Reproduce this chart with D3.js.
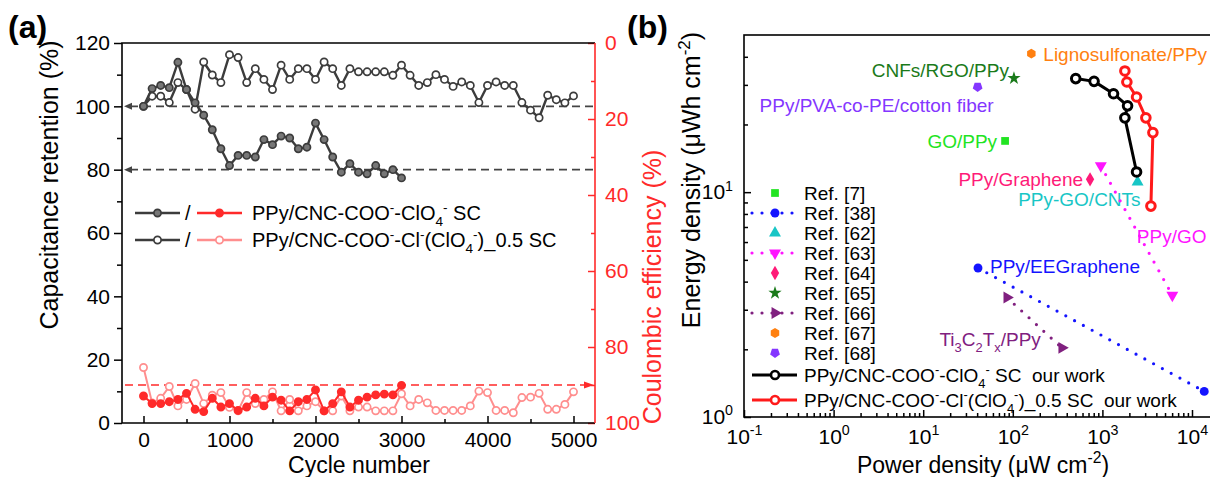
<!DOCTYPE html>
<html>
<head>
<meta charset="utf-8">
<script src="https://cdn.jsdelivr.net/npm/d3@7"></script>
<style>
html, body { margin: 0; padding: 0; background: #fff; overflow: hidden; }
svg { display: block; font-family: "Liberation Sans", Arial, sans-serif; }
</style>
</head>
<body>
<svg id="chart" width="1210" height="477"></svg>
<script>
// ---- panel (a): cycling stability ----
const cycles3000 = [0,100,200,300,400,500,600,700,800,900,1000,1100,1200,1300,1400,1500,1600,1700,1800,1900,2000,
  2100,2200,2300,2400,2500,2600,2700,2800,2900,3000];
const cycles5000 = [0,100,200,300,400,500,600,700,800,900,1000,1100,1200,1300,1400,1500,1600,1700,1800,1900,2000,
  2100,2200,2300,2400,2500,2600,2700,2800,2900,3000,3100,3200,3300,3400,3500,3600,3700,3800,3900,4000,
  4100,4200,4300,4400,4500,4600,4700,4800,4900,5000];
const retentionClO4 = [100,105.6,106.6,105.9,113.9,105.3,101.1,97.2,92.6,86.6,81.3,84.5,84.5,84.0,89.5,87.9,90.6,90.0,
  86.6,87.1,94.7,89.5,84.0,79.2,81.9,79.2,78.7,81.3,78.7,80.0,77.4];
const retentionClClO4 = [100,103.2,103.2,101.2,107.5,105.3,99.1,114.0,109.9,107.5,116.3,115.4,107.5,111.9,108.5,105.3,
  113.0,108.5,111.9,111.9,108.5,114.0,111.9,106.6,111.9,110.9,110.9,110.9,110.9,109.8,113.0,109.8,106.6,107.5,110.0,
  108.5,106.3,107.7,106.6,101.2,106.6,107.7,106.6,106.6,101.2,98.8,96.4,103.5,102.1,101.1,103.3];
const ceClO4 = [92.9,94.9,94.9,94.4,93.8,92.2,96.4,97.0,93.5,95.8,94.9,96.7,95.8,93.5,95.5,93.2,94.0,96.8,94.4,93.8,
  91.3,96.8,94.9,91.8,95.8,94.0,93.2,92.6,92.4,92.6,90.1];
const ceClClO4 = [85.4,94.7,93.5,90.4,95.5,93.8,89.6,94.9,92.7,92.0,95.9,96.8,92.0,94.9,93.8,91.8,96.8,93.8,96.8,95.5,
  94.4,96.8,96.8,92.9,96.8,95.8,95.8,96.8,96.8,96.8,92.3,95.5,93.8,94.7,96.7,96.7,96.7,96.7,95.5,91.6,92.0,96.7,96.7,
  97.3,93.3,93.2,92.2,96.4,96.4,95.1,91.8];
const retentionGuides = [100, 80];
const ceGuide = 90;
const cycleTicks = [0, 1000, 2000, 3000, 4000, 5000];
const retentionTicks = [0, 20, 40, 60, 80, 100, 120];
const ceTicks = [0, 20, 40, 60, 80, 100];

// ---- panel (b): Ragone plot ----
const refNames = ["Ref. [7]","Ref. [38]","Ref. [62]","Ref. [63]","Ref. [64]","Ref. [65]","Ref. [66]","Ref. [67]","Ref. [68]"];
const refPower = [[82],[40.9,13700],[2470],[960,6030],[728],[103],[86,353],[161],[40.5]];
const refEnergy = [[16.9],[4.6,1.30],[11.1],[13.1,3.48],[11.4],[32.1],[3.40,2.03],[41.3],[29.4]];
const refTags = ["GO/PPy","PPy/EEGraphene","PPy-GO/CNTs","PPy/GO","PPy/Graphene","CNFs/RGO/PPy",
  [["Ti",""],["3","sub"],["C",""],["2","sub"],["T",""],["x","sub"],["/PPy",""]],"Lignosulfonate/PPy","PPy/PVA-co-PE/cotton fiber"];
const powerClO4 = [504, 807, 1331, 1909, 1782, 2406];
const energyClO4 = [32.0, 31.1, 27.4, 24.2, 21.4, 12.3];
const powerClClO4 = [1782, 1875, 2406, 3055, 3660, 3478];
const energyClClO4 = [34.6, 30.9, 26.5, 21.4, 18.4, 8.67];
const powerTicks = [0.1, 1, 10, 100, 1000, 10000];
const energyTicks = [1, 10];

// styles for the refs (colour, marker, dotted link), kept apart from the values
const hexagon = {draw(c, s) { const r = Math.sqrt(2 * s / (3 * Math.sqrt(3)));
  for (let i = 0; i < 6; i++) { const a = Math.PI / 6 + i * Math.PI / 3; i ? c.lineTo(r * Math.cos(a), r * Math.sin(a)) : c.moveTo(r * Math.cos(a), r * Math.sin(a)); } c.closePath(); }};
const pentagon = {draw(c, s) { const r = Math.sqrt(2 * s / (5 * Math.sin(2 * Math.PI / 5)));
  for (let i = 0; i < 5; i++) { const a = Math.PI / 2 + i * 2 * Math.PI / 5; i ? c.lineTo(r * Math.cos(a), r * Math.sin(a)) : c.moveTo(r * Math.cos(a), r * Math.sin(a)); } c.closePath(); }};
const refStyle = [
  {color: "#22e422", type: d3.symbolSquare, rot: 0, size: 60, dotted: false},
  {color: "#1414ff", type: d3.symbolCircle, rot: 0, size: 62, dotted: true},
  {color: "#18c6c6", type: d3.symbolTriangle, rot: 0, size: 62, dotted: false},
  {color: "#ff14ff", type: d3.symbolTriangle, rot: 180, size: 62, dotted: true},
  {color: "#ff1a78", type: d3.symbolDiamond, rot: 0, size: 60, dotted: false},
  {color: "#1a7a1a", type: d3.symbolStar, rot: 0, size: 55, dotted: false},
  {color: "#80207f", type: d3.symbolTriangle, rot: 90, size: 62, dotted: true},
  {color: "#ff8010", type: hexagon, rot: 0, size: 62, dotted: false},
  {color: "#8436ff", type: pentagon, rot: 0, size: 62, dotted: false}
];
// where each annotation sits: [point index, dx, dy, anchor]
const tagPlace = [[0,-8,7,"end"],[0,12,5,"start"],[0,3,24,"end"],[0,36,77,"start"],[0,-7,7,"end"],
  [0,-5,-1,"end"],[1,-21,-2,"end"],[0,12,7,"start"],[0,16,25,"end"]];

const svg = d3.select("#chart");
const FS = 21;

function richText(sel, parts, fs) {
  let cur = 0;
  parts.forEach(p => {
    const [txt, kind] = typeof p === "string" ? [p, ""] : p;
    const off = kind === "sup" ? -0.42 * fs : kind === "sub" ? 0.3 * fs : 0;
    const ts = sel.append("tspan").attr("font-size", kind ? fs * 0.68 : fs).text(txt);
    if (off !== cur) ts.attr("dy", off - cur);
    cur = off;
  });
  return sel;
}

function styleAxis(g, color) {
  g.attr("font-family", null).attr("font-size", FS);
  g.select(".domain").remove();
  g.selectAll(".tick line").attr("stroke", color).attr("stroke-width", 1.5);
  g.selectAll(".tick text").attr("fill", color);
}

// ================= panel (a) =================
const xA = d3.scaleLinear().domain([-250, 5250]).range([122, 595]);
const yL = d3.scaleLinear().domain([0, 120]).range([423, 43]);
const yR = d3.scaleLinear().domain([0, 100]).range([43, 423]);
const red = "#ff2a2a", pink = "#ff8e8e", grey = "#3c3c3c";
const intFmt = d3.format("d");

svg.append("g").attr("transform", "translate(122,0)")
  .call(d3.axisLeft(yL).tickValues(retentionTicks).tickSize(8).tickPadding(4)).call(g => styleAxis(g, "#000"));
svg.append("g").attr("transform", "translate(122,0)")
  .call(d3.axisLeft(yL).tickValues(d3.range(10, 120, 20)).tickSize(5).tickFormat("")).call(g => styleAxis(g, "#000"));
svg.append("g").attr("transform", "translate(595,0)")
  .call(d3.axisRight(yR).tickValues(ceTicks).tickSize(-7).tickPadding(10)).call(g => styleAxis(g, red));
svg.append("g").attr("transform", "translate(595,0)")
  .call(d3.axisRight(yR).tickValues(d3.range(10, 100, 20)).tickSize(-4).tickFormat("")).call(g => styleAxis(g, red));
svg.append("g").attr("transform", "translate(0,423)")
  .call(d3.axisBottom(xA).tickValues(cycleTicks).tickFormat(intFmt).tickSize(-7).tickPadding(9)).call(g => styleAxis(g, "#000"));
svg.append("g").attr("transform", "translate(0,423)")
  .call(d3.axisBottom(xA).tickValues(d3.range(500, 5000, 1000)).tickSize(-4).tickFormat("")).call(g => styleAxis(g, "#000"));

const [ax0, ax1] = xA.range();
svg.append("path").attr("d", `M${ax0},${yL(0)}V${yL(120)}H${ax1}M${ax0},${yL(0)}H${ax1}`)
  .attr("fill", "none").attr("stroke", "#000").attr("stroke-width", 1.6);
svg.append("line").attr("x1", ax1).attr("x2", ax1).attr("y1", yL(0)).attr("y2", yL(120))
  .attr("stroke", red).attr("stroke-width", 1.6);

// dashed guides with arrows
retentionGuides.forEach(v => {
  const y = yL(v);
  svg.append("line").attr("x1", ax0 + 8).attr("x2", ax1).attr("y1", y).attr("y2", y)
    .attr("stroke", "#444").attr("stroke-width", 1.6).attr("stroke-dasharray", "8,5");
  svg.append("path").attr("d", `M${ax0 + 2},${y}L${ax0 + 10},${y - 3.5}L${ax0 + 10},${y + 3.5}Z`).attr("fill", "#444");
});
{
  const y = yR(ceGuide);
  svg.append("line").attr("x1", ax0 + 3).attr("x2", ax1 - 8).attr("y1", y).attr("y2", y)
    .attr("stroke", red).attr("stroke-width", 1.6).attr("stroke-dasharray", "8,5");
  svg.append("path").attr("d", `M${ax1 - 1},${y}L${ax1 - 11},${y - 3.5}L${ax1 - 11},${y + 3.5}Z`).attr("fill", red);
}

function drawSeries(xs, ys, yScale, stroke, fill, lw) {
  const pts = d3.zip(xs, ys);
  svg.append("path").datum(pts)
    .attr("d", d3.line().x(d => xA(d[0])).y(d => yScale(d[1])))
    .attr("fill", "none").attr("stroke", stroke).attr("stroke-width", lw).attr("stroke-linejoin", "round");
  svg.append("g").selectAll("circle").data(pts).join("circle")
    .attr("cx", d => xA(d[0])).attr("cy", d => yScale(d[1])).attr("r", 3.6)
    .attr("fill", fill).attr("stroke", stroke).attr("stroke-width", 1.7);
}
drawSeries(cycles5000, retentionClClO4, yL, grey, "#fff", 2.4);
drawSeries(cycles3000, retentionClO4, yL, grey, "#777", 2.4);
drawSeries(cycles5000, ceClClO4, yR, pink, "#fff", 2);
drawSeries(cycles3000, ceClO4, yR, red, red, 2);

// legend (a)
const legA = [
  {y: 213, c1: grey, f1: "#777", c2: red, f2: red,
   parts: ["PPy/CNC-COO", ["-", "sup"], "-ClO", ["4", "sub"], ["-", "sup"], " SC"]},
  {y: 240, c1: grey, f1: "#fff", c2: pink, f2: "#fff",
   parts: ["PPy/CNC-COO", ["-", "sup"], "-Cl", ["-", "sup"], "(ClO", ["4", "sub"], ["-", "sup"], ")_0.5 SC"]}
];
legA.forEach(r => {
  [[135, 180, r.c1, r.f1], [197, 242, r.c2, r.f2]].forEach(([a, b, c, f]) => {
    svg.append("line").attr("x1", a).attr("x2", b).attr("y1", r.y).attr("y2", r.y).attr("stroke", c).attr("stroke-width", 2.4);
    svg.append("circle").attr("cx", (a + b) / 2).attr("cy", r.y).attr("r", 3.6).attr("fill", f).attr("stroke", c).attr("stroke-width", 1.7);
  });
  svg.append("text").attr("x", 185).attr("y", r.y + 7).attr("font-size", 20).text("/");
  richText(svg.append("text").attr("x", 252).attr("y", r.y + 7), r.parts, 20);
});

svg.append("text").attr("x", 8).attr("y", 38).attr("font-size", 32).attr("font-weight", "bold").text("(a)");
svg.append("text").attr("transform", "translate(58,185) rotate(-90)").attr("text-anchor", "middle")
  .attr("font-size", 25).text("Capacitance retention (%)");
svg.append("text").attr("x", 359).attr("y", 472.5).attr("text-anchor", "middle").attr("font-size", 23).text("Cycle number");
svg.append("text").attr("transform", "translate(661,287) rotate(-90)").attr("text-anchor", "middle")
  .attr("font-size", 25).attr("fill", red).text("Coulombic efficiency (%)");

// ================= panel (b) =================
const xB = d3.scaleLog().domain([0.1, 1e4]).range([744, 1192]);
const yB = d3.scaleLog().domain([1, 50]).range([417, 35]);

const minorP = [], minorE = [];
for (let k = -1; k <= 4; k++) for (let m = 2; m <= 9; m++) minorP.push(m * Math.pow(10, k));
for (let k = 0; k <= 1; k++) for (let m = 2; m <= 9; m++) if (m * Math.pow(10, k) < 50) minorE.push(m * Math.pow(10, k));

const supLabels = g => g.selectAll(".tick text").text(null).each(function (d) {
  richText(d3.select(this), ["10", [String(Math.round(Math.log10(d))), "sup"]], FS);
});
svg.append("g").attr("transform", "translate(0,417)")
  .call(d3.axisBottom(xB).tickValues(powerTicks).tickSize(-7).tickPadding(12)).call(g => styleAxis(g, "#000")).call(supLabels);
svg.append("g").attr("transform", "translate(0,417)")
  .call(d3.axisBottom(xB).tickValues(minorP).tickSize(-4).tickFormat("")).call(g => styleAxis(g, "#000"));
svg.append("g").attr("transform", "translate(744,0)")
  .call(d3.axisLeft(yB).tickValues(energyTicks).tickSize(-7).tickPadding(11)).call(g => styleAxis(g, "#000")).call(supLabels);
svg.append("g").attr("transform", "translate(744,0)")
  .call(d3.axisLeft(yB).tickValues(minorE).tickSize(-4).tickFormat("")).call(g => styleAxis(g, "#000"));
svg.append("rect").attr("x", 744).attr("y", 35).attr("width", 540).attr("height", 382)
  .attr("fill", "none").attr("stroke", "#000").attr("stroke-width", 1.6);

const sym = (st) => d3.symbol().type(st.type).size(st.size)();
refNames.forEach((name, i) => {
  const st = refStyle[i];
  const pts = d3.zip(refPower[i], refEnergy[i]);
  if (st.dotted) {
    svg.append("path").datum(pts).attr("d", d3.line().x(d => xB(d[0])).y(d => yB(d[1])))
      .attr("fill", "none").attr("stroke", st.color).attr("stroke-width", 3.2)
      .attr("stroke-linecap", "round").attr("stroke-dasharray", "0,10");
  }
  svg.append("g").selectAll("path").data(pts).join("path").attr("d", sym(st))
    .attr("transform", d => `translate(${xB(d[0])},${yB(d[1])}) rotate(${st.rot})`).attr("fill", st.color);
  const [pi, dx, dy, anchor] = tagPlace[i];
  const t = svg.append("text").attr("x", xB(pts[pi][0]) + dx).attr("y", yB(pts[pi][1]) + dy)
    .attr("text-anchor", anchor).attr("fill", st.color).attr("font-size", 19);
  if (typeof refTags[i] === "string") t.text(refTags[i]); else richText(t, refTags[i], 19);
});

function drawOurs(ps, es, color) {
  const pts = d3.zip(ps, es);
  svg.append("path").datum(pts).attr("d", d3.line().x(d => xB(d[0])).y(d => yB(d[1])))
    .attr("fill", "none").attr("stroke", color).attr("stroke-width", 3).attr("stroke-linejoin", "round");
  svg.append("g").selectAll("circle").data(pts).join("circle")
    .attr("cx", d => xB(d[0])).attr("cy", d => yB(d[1])).attr("r", 4.3)
    .attr("fill", "#fff").attr("stroke", color).attr("stroke-width", 3);
}
drawOurs(powerClO4, energyClO4, "#000");
drawOurs(powerClClO4, energyClClO4, "#ff1a1a");

// legend (b)
const legRowsY = [193, 213, 233, 253, 273, 293, 313, 333, 353];
refNames.forEach((name, i) => {
  const st = refStyle[i], y = legRowsY[i];
  if (st.dotted) {
    svg.append("line").attr("x1", 752).attr("x2", 798).attr("y1", y).attr("y2", y)
      .attr("stroke", st.color).attr("stroke-width", 3.2).attr("stroke-linecap", "round").attr("stroke-dasharray", "0,10");
  }
  svg.append("path").attr("d", sym(st)).attr("transform", `translate(775,${y}) rotate(${st.rot})`).attr("fill", st.color);
  svg.append("text").attr("x", 804).attr("y", y + 7).attr("font-size", 19).text(name);
});
[
  {y: 375, color: "#000", parts: ["PPy/CNC-COO", ["-", "sup"], "-ClO", ["4", "sub"], ["-", "sup"], " SC\u00a0\u00a0our work"]},
  {y: 400, color: "#ff1a1a", parts: ["PPy/CNC-COO", ["-", "sup"], "-Cl", ["-", "sup"], "(ClO", ["4", "sub"], ["-", "sup"], ")_0.5 SC\u00a0\u00a0our work"]}
].forEach(r => {
  svg.append("line").attr("x1", 752).attr("x2", 797).attr("y1", r.y).attr("y2", r.y).attr("stroke", r.color).attr("stroke-width", 3);
  svg.append("circle").attr("cx", 775).attr("cy", r.y).attr("r", 4).attr("fill", "#fff").attr("stroke", r.color).attr("stroke-width", 2.6);
  richText(svg.append("text").attr("x", 804).attr("y", r.y + 7), r.parts, 19);
});

svg.append("text").attr("x", 627).attr("y", 38).attr("font-size", 32).attr("font-weight", "bold").text("(b)");
richText(svg.append("text").attr("transform", "translate(700,180) rotate(-90)").attr("text-anchor", "middle"),
  ["Energy density (\u03bcWh cm", ["-2", "sup"], ")"], 25);
richText(svg.append("text").attr("x", 983).attr("y", 472.5).attr("text-anchor", "middle"),
  ["Power density (\u03bcW cm", ["-2", "sup"], ")"], 23);
</script>
</body>
</html>
